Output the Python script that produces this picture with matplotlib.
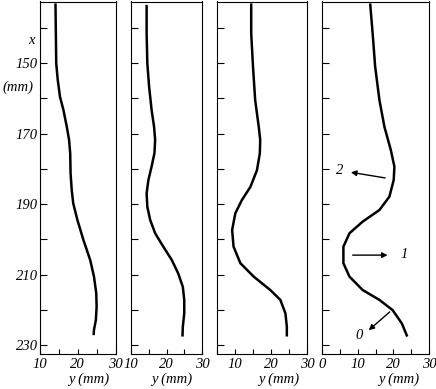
import matplotlib
matplotlib.use("Agg")
import matplotlib.pyplot as plt
from matplotlib.ticker import FixedLocator

plt.rcParams['font.family'] = ['Liberation Serif', 'DejaVu Serif']
plt.rcParams['font.style'] = 'italic'

# streamwise position x (mm) and transverse position y (mm) for each profile
x1 = [133.1, 141.6, 150.1, 154.8, 159.6, 163.3, 168.1, 171.8, 175.6, 181.3, 186.0, 189.8, 194.5,
      200.2, 205.9, 210.6, 215.3, 219.1, 222.9, 225.7, 227.2]
y1 = [14.1, 14.2, 14.3, 14.7, 15.3, 16.2, 17.1, 17.7, 18.0, 18.1, 18.4, 18.8, 19.9,
      21.5, 23.3, 24.3, 24.9, 25.0, 24.8, 24.3, 24.2]

x2 = [133.5, 141.6, 150.1, 156.7, 163.3, 168.1, 171.8, 175.6, 179.4, 183.2, 187.0, 190.8, 194.5,
      198.3, 202.1, 205.9, 209.7, 213.5, 217.2, 221.0, 224.8, 227.6]
y2 = [14.4, 14.4, 14.6, 15.1, 15.8, 16.5, 16.8, 16.6, 15.8, 14.9, 14.4, 14.6, 15.4,
      16.8, 19.1, 21.5, 23.3, 24.6, 25.0, 25.0, 24.6, 24.5]

x3 = [133.1, 141.6, 151.0, 160.5, 168.1, 171.8, 175.6, 180.4, 185.1, 188.9, 192.6, 197.4, 202.1,
      206.8, 210.6, 214.4, 217.2, 221.0, 224.8, 227.6]
y3 = [14.5, 14.5, 15.0, 15.6, 16.6, 17.0, 16.9, 16.1, 14.3, 11.9, 10.1, 9.2, 9.6,
      11.5, 15.2, 19.8, 22.6, 24.0, 24.4, 24.4]

x4 = [133.1, 141.6, 151.0, 160.5, 168.1, 174.7, 179.4, 183.2, 187.9, 191.7, 195.0, 198.3, 202.1,
      206.8, 210.6, 214.4, 217.2, 220.1, 223.9, 227.6]
y4 = [13.5, 14.2, 14.9, 16.1, 17.5, 19.3, 20.3, 20.1, 18.9, 16.1, 11.4, 7.7, 6.0,
      6.0, 7.7, 11.4, 16.1, 19.8, 22.4, 23.9]

xs = [x1, x2, x3, x4]
ys = [y1, y2, y3, y4]
xlims = [(10, 30), (10, 30), (5, 30), (0, 30)]
xticklabels_major = [[10, 20, 30], [10, 20, 30], [10, 20, 30], [0, 10, 20, 30]]
ylabel_ticks = [150, 170, 190, 210, 230]
yminor_ticks = [140, 160, 180, 200, 220]

# annotations in last panel: (label, label pos, arrow start, arrow end)
ann_labels = ['2', '1', '0']
ann_text_pos = [(5.0, 180.6), (23.1, 204.3), (10.5, 227.2)]
ann_tail = [(17.7, 182.6), (8.6, 204.5), (19.0, 220.6)]
ann_head = [(8.1, 181.0), (18.4, 204.5), (13.1, 225.8)]

W, H = 436, 389
fig = plt.figure(figsize=(W / 100, H / 100), dpi=100)

panel_px = [(40, 115.5), (131, 202), (217, 307), (322, 429)]
top_px, bot_px = 1.5, 354
label_xfrac = [0.65, 0.58, 0.69, 0.72]

axes = []
for i in range(4):
    l, r = panel_px[i]
    ax = fig.add_axes([l / W, 1 - bot_px / H, (r - l) / W, (bot_px - top_px) / H])
    axes.append(ax)
    ax.plot(ys[i], xs[i], color='black', lw=1.8, solid_joinstyle='round', solid_capstyle='butt')
    ax.set_xlim(*xlims[i])
    ax.set_ylim(232.55, 132.55)
    lo, hi = xlims[i]
    ticks = list(range(int(lo), int(hi) + 1, 5))
    ax.set_xticks(ticks)
    ax.set_xticklabels([str(t) if t in xticklabels_major[i] else '' for t in ticks])
    ax.yaxis.set_major_locator(FixedLocator(ylabel_ticks))
    ax.yaxis.set_minor_locator(FixedLocator(yminor_ticks))
    ax.tick_params(axis='x', direction='in', length=3.5, width=0.8, pad=3, labelsize=10.5)
    ax.tick_params(axis='y', which='both', direction='in', length=5, width=0.8, pad=1.5, labelsize=10.5)
    if i > 0:
        ax.set_yticklabels([])
    for s in ax.spines.values():
        s.set_linewidth(0.8)
    ax.set_xlabel('y (mm)', fontsize=10.5)
    ax.xaxis.set_label_coords(label_xfrac[i], -0.053)

ax4 = axes[3]
for lab, tp, tail, head in zip(ann_labels, ann_text_pos, ann_tail, ann_head):
    ax4.annotate('', xy=head, xytext=tail,
                 arrowprops=dict(arrowstyle='-|>', color='black', lw=1.0, mutation_scale=8,
                                 shrinkA=0, shrinkB=0))
    ax4.text(tp[0], tp[1], lab, fontsize=10.5, ha='center', va='center')

fig.text(31 / W, 1 - 40 / H, 'x', fontsize=10.5, ha='center', va='center')
fig.text(18 / W, 1 - 87 / H, '(mm)', fontsize=10.5, ha='center', va='center')

fig.savefig('out.png', dpi=100)
